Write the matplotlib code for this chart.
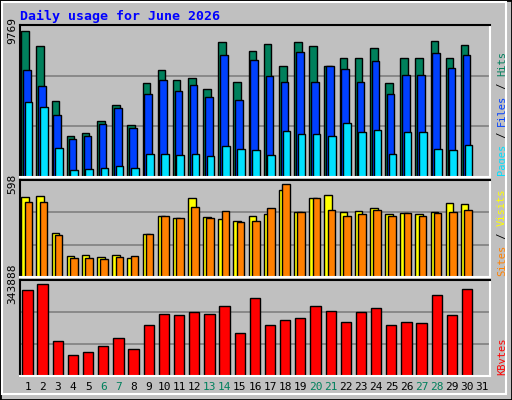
import numpy as np
import matplotlib.pyplot as plt

days = np.arange(1, 31)
hits = np.array([9769, 8770, 5050, 2730, 2920, 3720, 4780, 3450, 6310, 7180,
                 6510, 6650, 5850, 9040, 6380, 8440, 8900, 7440, 9040, 8770,
                 7440, 7970, 7970, 8640, 6250, 7970, 7970, 9100, 7970, 8840])
files = np.array([7180, 6050, 4120, 2530, 2720, 3520, 4590, 3250, 5520, 6510,
                  5780, 6120, 5320, 8170, 5180, 7840, 6780, 6380, 8370, 6380,
                  7440, 7240, 6380, 7780, 5580, 6850, 6850, 8300, 7310, 8170])
pages = np.array([4980, 4650, 1930, 465, 532, 600, 730, 600, 1530, 1530,
                  1460, 1530, 1400, 2060, 1860, 1790, 1460, 3050, 2860, 2860,
                  2720, 3590, 2990, 3120, 1530, 2990, 2990, 1860, 1790, 2130])
visits = np.array([514, 520, 280, 137, 143, 130, 143, 124, 273, 390,
                   377, 507, 384, 371, 358, 390, 403, 559, 416, 507,
                   527, 416, 423, 442, 403, 410, 403, 416, 475, 468])
sites = np.array([481, 481, 267, 124, 124, 117, 130, 137, 273, 390,
                  377, 449, 377, 423, 351, 358, 442, 598, 416, 507,
                  429, 390, 403, 429, 390, 410, 390, 410, 416, 429])
kbytes = np.array([321000, 343888, 132000, 79000, 91000, 113000, 140000, 102000, 189000, 230000,
                   227000, 238000, 230000, 261000, 159000, 291000, 189000, 208000, 215000, 261000,
                   242000, 200000, 238000, 253000, 189000, 200000, 197000, 302000, 227000, 325000])
weekends = [6, 7, 13, 14, 20, 21, 27, 28]

W, H = 512, 400
bg = '#C0C0C0'
fig = plt.figure(figsize=(W / 100, H / 100), dpi=100, facecolor=bg)
mono = 'DejaVu Sans Mono'

# bevel border
fig.patches.append(plt.Rectangle((0, 0), 1, 1, transform=fig.transFigure,
                                 fill=False, ec='black', lw=2))
fig.patches.append(plt.Rectangle((2 / W, 6 / H), (W - 8) / W, (H - 8) / H,
                                 transform=fig.transFigure, fill=False, ec='white', lw=1.5))
fig.text(20 / W, 1 - 16 / H, 'Daily usage for June 2026', color='#0000FF',
         family=mono, weight='bold', fontsize=9.5, va='center')


def panel(top, bottom):
    ax = fig.add_axes([20 / W, 1 - bottom / H, 470 / W, (bottom - top) / H])
    ax.set_facecolor(bg)
    ax.set_xlim(0.5, 31.5)
    for s in ax.spines.values():
        s.set_color('white')
        s.set_linewidth(1.5)
    ax.spines['left'].set_color('black')
    ax.spines['top'].set_color('black')
    ax.set_xticks([])
    return ax


def finish(ax, vmax, label_parts):
    top = vmax * 1.04
    ax.set_ylim(0, top)
    for f in (1 / 3, 2 / 3):
        ax.axhline(top * f, color='#808080', lw=1.2, zorder=0)
    ax.set_yticks([vmax])
    ax.set_yticklabels([str(vmax)], rotation=90, va='center', family=mono, fontsize=8)
    ax.tick_params(axis='y', length=0, pad=2)
    y = 0.01
    for txt, col in label_parts:
        ax.text(1.015, y, txt, transform=ax.transAxes, rotation=90, color=col,
                family=mono, fontsize=7.5, ha='left', va='bottom')
        y += len(txt) * 6.2 / ax.bbox.height


bw = 0.5
ax1 = panel(25, 177)
ax1.bar(days - 0.42, hits, bw, align='edge', color='#00805C', ec='black', lw=1)
ax1.bar(days - 0.3, files, bw, align='edge', color='#0040FF', ec='black', lw=1)
ax1.bar(days - 0.18, pages, bw, align='edge', color='#00E0FF', ec='black', lw=1)
finish(ax1, 9769,
       [('Pages', '#00E0FF'), (' / ', 'black'), ('Files', '#0040FF'), (' / ', 'black'), ('Hits', '#00805C')])

ax2 = panel(180, 277)
ax2.bar(days - 0.42, visits, bw, align='edge', color='#FFFF00', ec='black', lw=1)
ax2.bar(days - 0.2, sites, bw, align='edge', color='#FF8000', ec='black', lw=1)
finish(ax2, 598, [('Sites', '#FF8000'), (' / ', 'black'), ('Visits', '#FFFF00')])

ax3 = panel(280, 376)
ax3.bar(days - 0.35, kbytes, 0.68, align='edge', color='#FF0000', ec='black', lw=1)
finish(ax3, 343888, [('KBytes', '#FF0000')])
ax3.set_xticks(np.arange(1, 32))
ax3.set_xticklabels([str(d) for d in range(1, 32)], family=mono, fontsize=8)
ax3.tick_params(axis='x', length=0, pad=4)
for lbl, d in zip(ax3.get_xticklabels(), range(1, 32)):
    if d in weekends:
        lbl.set_color('#00805C')

fig.savefig('out.png', dpi=100, facecolor=bg)
